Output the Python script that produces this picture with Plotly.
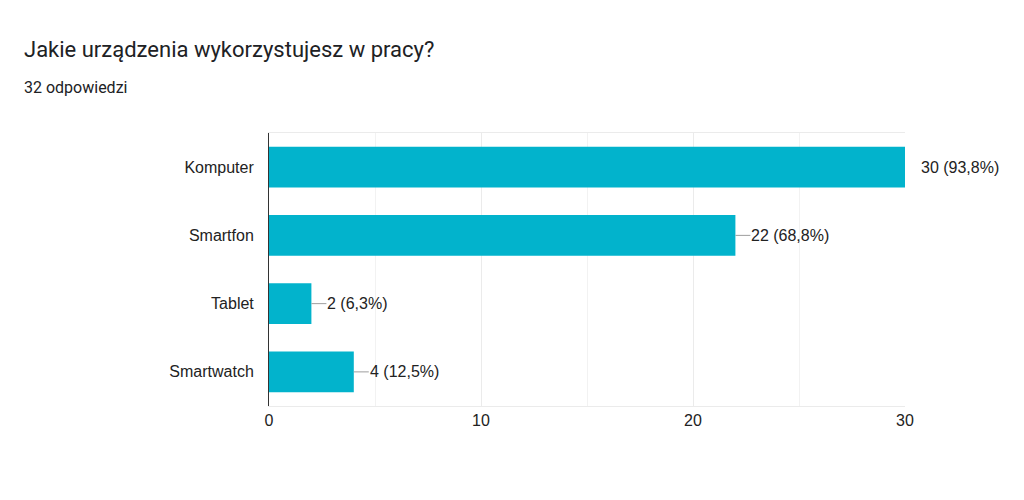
import plotly.graph_objects as go

# Survey data
categories = ['Komputer', 'Smartfon', 'Tablet', 'Smartwatch']
counts = [30, 22, 2, 4]
percent_labels = ['93,8%', '68,8%', '6,3%', '12,5%']
x_ticks = [0, 10, 20, 30]

BAR_COLOR = '#02b3cc'
TEXT_COLOR = '#222222'
LABEL_FONT = 'Liberation Sans, Arial, sans-serif'

# plot area width / height in px (used to place text in paper coords)
PW, PH = 636, 273

fig = go.Figure()

fig.add_trace(go.Bar(
    y=categories,
    x=counts,
    orientation='h',
    width=0.6,
    marker=dict(color=BAR_COLOR, line=dict(width=0)),
    hoverinfo='skip',
))

# value labels with short leader lines
for cat, val, pct in zip(categories, counts, percent_labels):
    label = f"{val} ({pct})"
    if val == max(counts):
        fig.add_annotation(
            x=val, y=cat, text=label, showarrow=False,
            xanchor='left', xshift=14,
            font=dict(family=LABEL_FONT, size=16, color=TEXT_COLOR),
        )
    else:
        fig.add_annotation(
            x=val, y=cat, text=label, showarrow=True,
            ax=15, ay=0, xanchor='left', standoff=0,
            arrowhead=0, arrowwidth=1, arrowcolor='#9e9e9e',
            borderpad=0,
            font=dict(family=LABEL_FONT, size=16, color=TEXT_COLOR),
        )

# title and subtitle
fig.add_annotation(
    xref='paper', yref='paper', x=-247 / PW, y=1 + 83 / PH,
    text='Jakie urządzenia wykorzystujesz w pracy?', showarrow=False,
    xanchor='left', yanchor='middle',
    font=dict(family='Roboto, sans-serif', size=22, color='#202124'),
)
fig.add_annotation(
    xref='paper', yref='paper', x=-247 / PW, y=1 + 45 / PH,
    text='32 odpowiedzi', showarrow=False,
    xanchor='left', yanchor='middle',
    font=dict(family='Roboto, sans-serif', size=16, color='#202124'),
)

# page body has an 8px margin, so margins are shifted to land the plot at 269..905 x 133..406
fig.update_layout(
    width=1024, height=500,
    margin=dict(l=261, r=127, t=125, b=102),
    paper_bgcolor='white', plot_bgcolor='white',
    showlegend=False,
    bargap=0.4,
    font=dict(family=LABEL_FONT, size=16, color=TEXT_COLOR),
)

fig.update_xaxes(
    range=[0, 30], tickvals=x_ticks, ticks='', ticklen=0,
    showgrid=True, gridcolor='#ebebeb', gridwidth=1,
    minor=dict(dtick=5, showgrid=True, gridcolor='#f2f2f2', gridwidth=1),
    zeroline=False, showline=True, linecolor='#ebebeb', mirror=True,
    tickfont=dict(size=16, color=TEXT_COLOR),
)
fig.update_yaxes(
    categoryorder='array', categoryarray=categories[::-1],
    showgrid=False, zeroline=False,
    showline=True, linecolor='#333333', linewidth=1,
    ticks='', ticklabelstandoff=11,
    tickfont=dict(size=16, color=TEXT_COLOR),
)

fig.write_html("out.html")
